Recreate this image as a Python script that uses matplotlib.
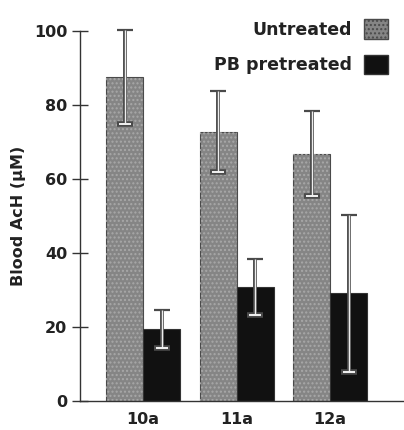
import matplotlib
matplotlib.use("Agg")
import matplotlib.pyplot as plt
from matplotlib.patches import Patch
import numpy as np

categories = ["10a", "11a", "12a"]
untreated = [87.6, 72.8, 66.8]
untreated_err = [12.6, 11.0, 11.5]
pb_pretreated = [19.4, 30.9, 29.1]
pb_err = [5.1, 7.6, 21.2]
yticks = [0, 20, 40, 60, 80, 100]
series_names = ["Untreated", "PB pretreated"]

plt.rcParams['font.family'] = ['DejaVu Sans']

fig = plt.figure(figsize=(4.04, 4.30), dpi=100)
ax = fig.add_axes([0.198, 0.0674, 0.802, 0.8605])

x = np.arange(len(categories))
w = 0.396
gray = '#858585'
black = '#111111'

ax.bar(x - w/2, untreated, w, color=gray, edgecolor='#4a4a4a', linewidth=0.8, zorder=2)
ax.bar(x - w/2, untreated, w, color='none', edgecolor='#a8a8a8', linewidth=0, hatch='....', zorder=2)
ax.bar(x + w/2, pb_pretreated, w, color=black, edgecolor='#333333', linewidth=0.8, zorder=2)

for xs, vals, errs in [(x - w/2, untreated, untreated_err), (x + w/2, pb_pretreated, pb_err)]:
    vals = np.array(vals)
    errs = np.array(errs)
    eb = ax.errorbar(xs, vals, yerr=errs, fmt='none', ecolor='#4a4a4a', elinewidth=2.8,
                     capsize=5.5, capthick=1.6, zorder=3)
    for art in eb.lines[1] + eb.lines[2]:
        art.set_clip_on(False)
    ax.plot(xs, vals - errs, ls='none', marker='_', ms=11, mew=4.0, color='#4a4a4a', zorder=3)
    eb2 = ax.errorbar(xs, vals, yerr=errs, fmt='none', ecolor='#eeeeee', elinewidth=1.0,
                      capsize=0, zorder=4)
    for art in eb2.lines[2]:
        art.set_clip_on(False)
    ax.plot(xs, vals - errs, ls='none', marker='_', ms=9, mew=1.4, color='#f2f2f2', zorder=4)

ax.set_xlim(-0.674, 2.79)
ax.set_ylim(0, 100)
ax.set_yticks(yticks)
ax.set_yticklabels([str(t) for t in yticks], fontsize=11.5, fontweight='bold', color='#222222')
ax.tick_params(axis='y', direction='inout', length=11.5, width=1.0, color='#333333', pad=3.5)
ax.set_xticks(x)
ax.set_xticklabels(categories, fontsize=11.5, fontweight='bold', color='#222222')
ax.tick_params(axis='x', length=0, pad=8)
for s in ['top', 'right']:
    ax.spines[s].set_visible(False)
ax.spines['left'].set_color('#333333')
ax.spines['bottom'].set_color('#333333')
ax.spines['left'].set_linewidth(1.0)
ax.spines['bottom'].set_linewidth(1.0)

fig.text(0.047, 0.497, "Blood AcH (\u03bcM)", rotation=90, ha='center', va='center',
         fontsize=11.5, fontweight='bold', color='#222222')

handles = [Patch(facecolor=gray, edgecolor='#4a4a4a', hatch='....'),
           Patch(facecolor=black, edgecolor='#333333')]
leg = fig.legend(handles, series_names, loc='upper right', bbox_to_anchor=(0.998, 0.991),
                 frameon=False, markerfirst=False, handlelength=1.38, handleheight=1.32,
                 labelspacing=0.92, handletextpad=0.69, borderpad=0.4,
                 prop={'size': 12.5, 'weight': 'bold'})
for t in leg.get_texts():
    t.set_color('#222222')

fig.savefig("out.png", dpi=100)
